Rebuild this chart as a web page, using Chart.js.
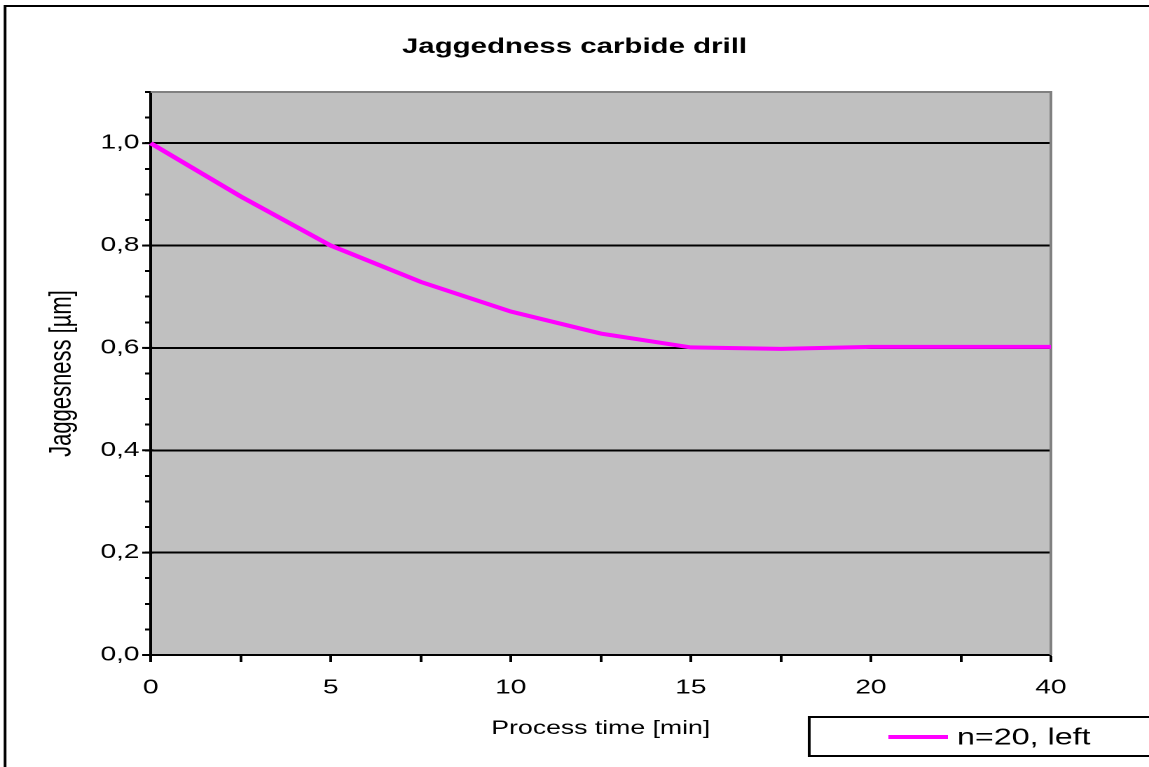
<!DOCTYPE html>
<html>
<head>
<meta charset="utf-8">
<script src="https://cdn.jsdelivr.net/npm/chart.js@4"></script>
<style>
  html, body { margin: 0; padding: 0; background: #fff; overflow: hidden; }
  #wrap { width: 1149px; height: 767px; overflow: hidden; }
  /* the reference is a horizontally stretched picture, so draw narrow and stretch */
  #myChart { transform: scaleX(1.40122); transform-origin: 0 0; }
</style>
</head>
<body>
<div id="wrap"><canvas id="myChart" width="820" height="767"></canvas></div>
<script>
const times = ['0', '', '5', '', '10', '', '15', '', '20', '', '40'];
const jaggedness = [1.0, 0.896, 0.800, 0.729, 0.671, 0.628, 0.601, 0.598, 0.602, 0.602, 0.602];
const yTickLabels = ['0,0', '0,2', '0,4', '0,6', '0,8', '1,0'];
const seriesName = 'n=20, left';
const chartTitle = 'Jaggedness carbide drill';

const FONT = "'Liberation Sans', Arial, sans-serif";

function isMajor(v) {
  const q = v / 0.2;
  return Math.abs(q - Math.round(q)) < 1e-6;
}

const framePlugin = {
  id: 'frame',
  beforeDraw(chart) {
    const ctx = chart.ctx;
    const a = chart.chartArea;
    ctx.save();
    ctx.fillStyle = '#fff';
    ctx.fillRect(0, 0, chart.width, chart.height);
    ctx.fillStyle = '#c0c0c0';
    ctx.fillRect(a.left, a.top, a.right - a.left, a.bottom - a.top);
    // outer frame
    ctx.strokeStyle = '#000';
    ctx.lineWidth = 2;
    ctx.beginPath();
    ctx.moveTo(3.6, chart.height + 2);
    ctx.lineTo(3.6, 6);
    ctx.lineTo(chart.width + 2, 6);
    ctx.stroke();
    // title, centred on the whole picture
    ctx.fillStyle = '#000';
    ctx.font = 'bold 21px ' + FONT;
    ctx.textAlign = 'center';
    ctx.textBaseline = 'middle';
    ctx.fillText(chartTitle, chart.width / 2, 47);
    ctx.restore();
  },
  beforeDatasetsDraw(chart) {
    const ctx = chart.ctx;
    const a = chart.chartArea;
    ctx.save();
    ctx.strokeStyle = '#808080';
    ctx.lineWidth = 2;
    ctx.beginPath();
    ctx.moveTo(a.left, a.top);
    ctx.lineTo(a.right, a.top);
    ctx.lineTo(a.right, a.bottom);
    ctx.stroke();
    // major y ticks poke a little into the plot
    const y = chart.scales.y;
    ctx.strokeStyle = '#000';
    ctx.lineWidth = 2;
    y.ticks.forEach((t) => {
      if (!isMajor(t.value)) return;
      const py = y.getPixelForValue(t.value);
      ctx.beginPath();
      ctx.moveTo(a.left - 6, py);
      ctx.lineTo(a.left + 2, py);
      ctx.stroke();
    });
    ctx.restore();
  },
  afterDraw(chart) {
    // legend box
    const ctx = chart.ctx;
    const ds = chart.data.datasets[0];
    ctx.save();
    ctx.fillStyle = '#fff';
    ctx.fillRect(577.5, 717, 260, 39);
    ctx.strokeStyle = '#000';
    ctx.lineWidth = 2;
    ctx.strokeRect(577.5, 717, 260, 39);
    ctx.strokeStyle = ds.borderColor;
    ctx.lineWidth = 4;
    ctx.beginPath();
    ctx.moveTo(634, 737);
    ctx.lineTo(676.5, 737);
    ctx.stroke();
    ctx.fillStyle = '#000';
    ctx.font = '23px ' + FONT;
    ctx.textBaseline = 'middle';
    ctx.textAlign = 'left';
    ctx.fillText(ds.label, 683, 738);
    ctx.restore();
  }
};

const data = {
  labels: times,
  datasets: [
    {
      label: seriesName,
      data: jaggedness,
      borderColor: '#ff00ff',
      borderWidth: 4,
      pointRadius: 0,
      tension: 0,
      fill: false,
    },
  ],
};

const config = {
  type: 'line',
  data: data,
  options: {
    responsive: false,
    animation: false,
    devicePixelRatio: 2,
    layout: { padding: { left: 0, right: 70, top: 92, bottom: 0 } },
    scales: {
      x: {
        type: 'category',
        offset: false,
        grid: {
          drawOnChartArea: false,
          drawTicks: true,
          tickLength: 7,
          tickColor: '#000',
          tickWidth: 2,
        },
        border: { color: '#000', width: 2 },
        ticks: {
          autoSkip: false,
          maxRotation: 0,
          padding: 14,
          color: '#000',
          font: { family: FONT, size: 20 },
        },
        title: {
          display: true,
          text: 'Process time [min]',
          color: '#000',
          font: { family: FONT, size: 19 },
          padding: { top: 0, bottom: 27 },
        },
        afterFit(scale) { scale.height = 112; },
      },
      y: {
        min: 0,
        max: 1.1,
        ticks: {
          stepSize: 0.05,
          autoSkip: false,
          padding: 4,
          color: '#000',
          font: { family: FONT, size: 20 },
          callback: function (value) {
            return isMajor(value) ? yTickLabels[Math.round(value / 0.2)] : '';
          },
        },
        grid: {
          color: function (ctx) {
            const v = ctx.tick ? ctx.tick.value : 0;
            return isMajor(v) && v > 0.01 ? '#000' : 'rgba(0,0,0,0)';
          },
          lineWidth: 2,
          drawTicks: true,
          tickLength: 4,
          tickColor: '#000',
          tickWidth: 2,
        },
        border: { color: '#000', width: 2 },
        title: {
          display: true,
          text: 'Jaggesness [µm]',
          color: '#000',
          font: { family: FONT, size: 22 },
          padding: { top: 31, bottom: 0 },
        },
        afterFit(scale) { scale.width = 107.5; },
      },
    },
    plugins: {
      legend: { display: false },
      tooltip: { enabled: false },
      title: { display: false },
    },
  },
  plugins: [framePlugin],
};

const myChart = new Chart(document.getElementById('myChart'), config);
</script>
</body>
</html>
